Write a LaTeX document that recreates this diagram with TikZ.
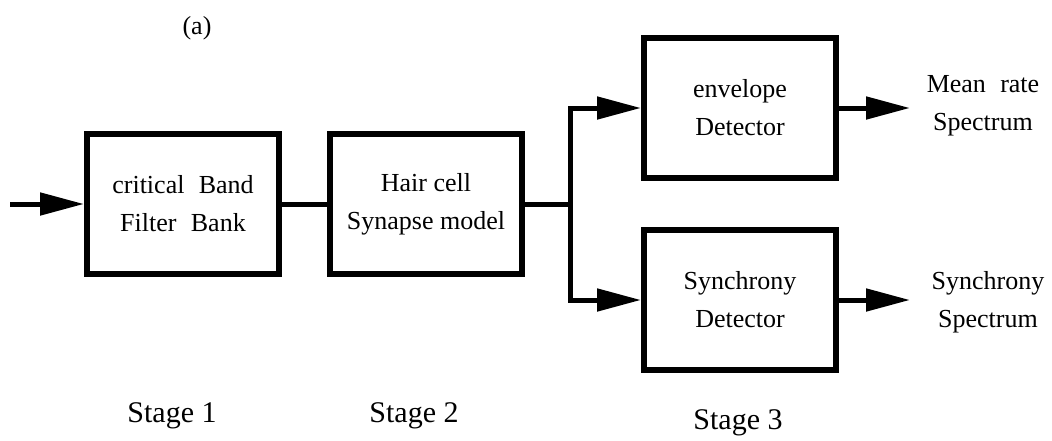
\documentclass[tikz,border=0pt]{standalone}
\usepackage{fontspec}
\setmainfont{Liberation Serif}
\usetikzlibrary{arrows.meta}
\begin{document}
\begin{tikzpicture}[x=1pt,y=-1pt,
  blk/.style={draw,line width=6pt,minimum width=192pt,minimum height=140pt,
    align=center,inner sep=0pt,font=\fontsize{26}{38}\selectfont},
  wire/.style={line width=5pt},
  arr/.style={wire,-{Triangle[length=44pt,width=22pt]}},
  stagelbl/.style={anchor=base,font=\fontsize{30}{36}\selectfont},
  outlbl/.style={align=center,font=\fontsize{26}{38}\selectfont}]
\useasboundingbox (0,0) rectangle (1052,440);

% figure tag
\node[anchor=base,font=\fontsize{26}{30}\selectfont] (tag) at (197,34) {(a)};

% processing blocks
\node[blk] (filt) at (183,204) {critical\hspace{0.3em} Band\\Filter\hspace{0.3em} Bank};
\node[blk] (hair) at (426,204) {Hair cell\\Synapse model};
\node[blk] (env)  at (740,108) {envelope\\Detector};
\node[blk] (sync) at (740,300) {Synchrony\\Detector};

% outputs
\node[outlbl] (meanout) at (983,106) {Mean\hspace{0.3em} rate\\Spectrum};
\node[outlbl] (syncout) at (988,302) {Synchrony\\Spectrum};

% stage captions
\node[stagelbl] (st1) at (172,422) {Stage 1};
\node[stagelbl] (st2) at (414,422) {Stage 2};
\node[stagelbl] (st3) at (738,429) {Stage 3};

% signal flow
\coordinate (in) at (10,204);
\coordinate (j)  at (570,204);
\coordinate (o1) at (910,108);
\coordinate (o2) at (910,300);

\draw[arr] (in) -- (filt.west);
\draw[wire] (filt.east) -- (hair.west);
\draw[arr] (hair.east) -- (j) |- (env.west);
\draw[arr] (j) |- (sync.west);
\draw[arr] (env.east) -- (o1);
\draw[arr] (sync.east) -- (o2);
\end{tikzpicture}
\end{document}
